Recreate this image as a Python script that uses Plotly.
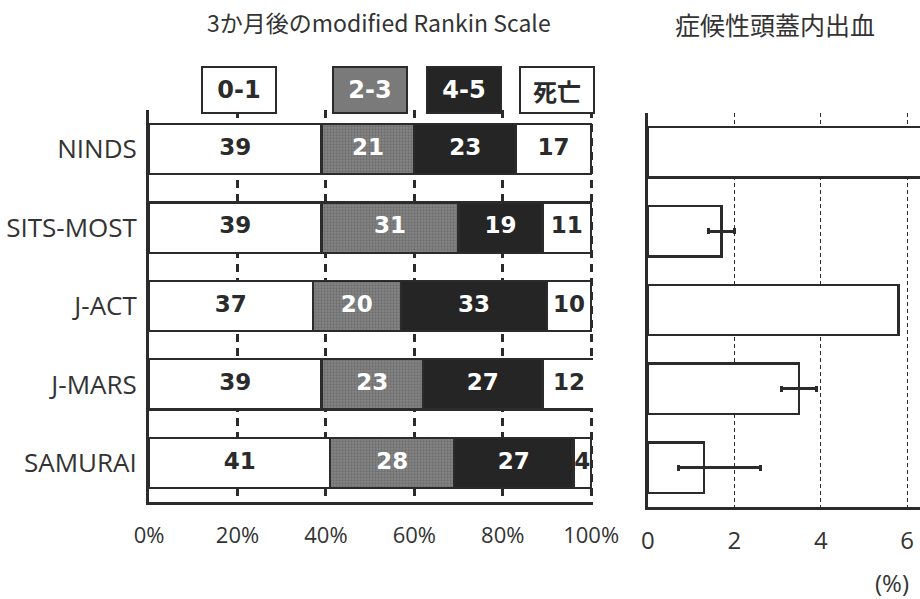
import plotly.graph_objects as go

# Trials (top to bottom)
trials = ["NINDS", "SITS-MOST", "J-ACT", "J-MARS", "SAMURAI"]

# modified Rankin Scale at 3 months (% of patients)
mrs_0_1 = [39, 39, 37, 39, 41]
mrs_2_3 = [21, 31, 20, 23, 28]
mrs_4_5 = [23, 19, 33, 27, 27]
mrs_death = [17, 11, 10, 12, 4]
mrs_groups = ["0-1", "2-3", "4-5", "死亡"]

# Symptomatic intracranial haemorrhage (%), with confidence limits
sich = [6.4, 1.7, 5.8, 3.5, 1.3]
sich_low = [None, 1.4, None, 3.1, 0.7]
sich_high = [None, 2.0, None, 3.9, 2.6]

left_ticks = [0, 20, 40, 60, 80, 100]
left_tick_text = ["0%", "20%", "40%", "60%", "80%", "100%"]
right_ticks = [0, 2, 4, 6]

INK = "#2b2b2b"
GRAY = "#858585"
DARK = "#252525"
LABEL_FONT = "Open Sans, DejaVu Sans, sans-serif"
BOLD_FONT = "DejaVu Sans, Verdana, sans-serif"
CJK_FONT = "Noto Sans CJK JP, sans-serif"

fig = go.Figure()

series = [mrs_0_1, mrs_2_3, mrs_4_5, mrs_death]
fills = [
    dict(color="white"),
    dict(color=GRAY, pattern=dict(shape=".", fgcolor="#555555", bgcolor=GRAY,
                                  size=3, solidity=0.45)),
    dict(color=DARK),
    dict(color="white"),
]
text_colors = [INK, "white", "white", INK]

for name, vals, fill in zip(mrs_groups, series, fills):
    fig.add_trace(go.Bar(
        y=trials, x=vals, name=name, orientation="h",
        marker=dict(**fill, line=dict(color=INK, width=2.2)),
        xaxis="x", yaxis="y", showlegend=False, hoverinfo="x+y",
    ))

# value labels at the centre of each stacked segment
start = [0] * len(trials)
for vals, tc in zip(series, text_colors):
    mids = [s + v / 2 for s, v in zip(start, vals)]
    fig.add_trace(go.Scatter(
        x=mids, y=trials, mode="text", text=[str(v) for v in vals],
        textfont=dict(family=BOLD_FONT, size=23, color=tc, weight="bold"),
        xaxis="x", yaxis="y", showlegend=False, hoverinfo="skip",
    ))
    start = [s + v for s, v in zip(start, vals)]

# symptomatic ICH panel
err_plus = [None if h is None else round(h - v, 2) for v, h in zip(sich, sich_high)]
err_minus = [None if l is None else round(v - l, 2) for v, l in zip(sich, sich_low)]
fig.add_trace(go.Bar(
    y=trials, x=sich, orientation="h",
    marker=dict(color="white", line=dict(color=INK, width=2.5)),
    error_x=dict(type="data", symmetric=False, array=err_plus, arrayminus=err_minus,
                 color=INK, thickness=3, width=3),
    xaxis="x2", yaxis="y2", showlegend=False, hoverinfo="x+y",
))

# group key boxes above the stacked bars
key_x = [20.4, 50, 71.3, 92.3]
key_bg = ["white", "#7a7a7a", DARK, "white"]
annotations = []
for lbl, kx, bg, tc in zip(mrs_groups, key_x, key_bg, text_colors):
    annotations.append(dict(
        x=kx, y=0.8497, xref="x", yref="paper", text=lbl, showarrow=False,
        font=dict(family=CJK_FONT if lbl == "死亡" else BOLD_FONT, size=24,
                  color=tc, weight="bold"),
        bgcolor=bg, bordercolor=INK, borderwidth=2, borderpad=1,
        width=70, height=42, xanchor="center", yanchor="middle",
    ))

annotations += [
    dict(x=0.412, y=0.963, xref="paper", yref="paper", showarrow=False,
         xanchor="center", yanchor="middle",
         text="3か月後のmodified Rankin Scale",
         font=dict(family=CJK_FONT, size=23, color="#333")),
    dict(x=0.842, y=0.96, xref="paper", yref="paper", showarrow=False,
         xanchor="center", yanchor="middle",
         text="症候性頭蓋内出血",
         font=dict(family=CJK_FONT, size=25, color="#333")),
    dict(x=0.97, y=0.027, xref="paper", yref="paper", showarrow=False,
         xanchor="center", yanchor="middle",
         text="(%)", font=dict(family=LABEL_FONT, size=24, color="#333")),
]

fig.update_layout(
    width=920, height=599,
    margin=dict(l=0, r=0, t=0, b=0, autoexpand=False),
    paper_bgcolor="white", plot_bgcolor="white",
    barmode="stack", bargap=0.36,
    annotations=annotations,
    xaxis=dict(
        domain=[0.162, 0.6445], range=[0, 100.4],
        tickvals=left_ticks, ticktext=left_tick_text,
        tickfont=dict(family=LABEL_FONT, size=22, color="#333"),
        showgrid=True, gridcolor=INK, gridwidth=2.5, griddash="8px,6px",
        showline=True, linecolor=INK, linewidth=3, automargin=False,
        zeroline=False, ticks="", ticklabelstandoff=12,
    ),
    yaxis=dict(
        domain=[0.1619, 0.8164], autorange="reversed",
        tickfont=dict(family=LABEL_FONT, size=26, color="#333"),
        showgrid=False, showline=True, linecolor=INK, linewidth=3,
        ticks="", ticklabelstandoff=4, zeroline=False, automargin=False,
    ),
    xaxis2=dict(
        domain=[0.7043, 1.0], range=[0, 6.296],
        tickvals=right_ticks,
        tickfont=dict(family=LABEL_FONT, size=24, color="#333"),
        showgrid=True, gridcolor=INK, gridwidth=1.2, griddash="4px,3px",
        showline=True, linecolor=INK, linewidth=3, automargin=False,
        zeroline=False, ticks="", ticklabelstandoff=10, anchor="y2",
    ),
    yaxis2=dict(
        domain=[0.1536, 0.8114], autorange="reversed", anchor="x2",
        showticklabels=False, showgrid=False, automargin=False,
        showline=True, linecolor=INK, linewidth=3, ticks="", zeroline=False,
    ),
)

fig.write_html("out.html")
